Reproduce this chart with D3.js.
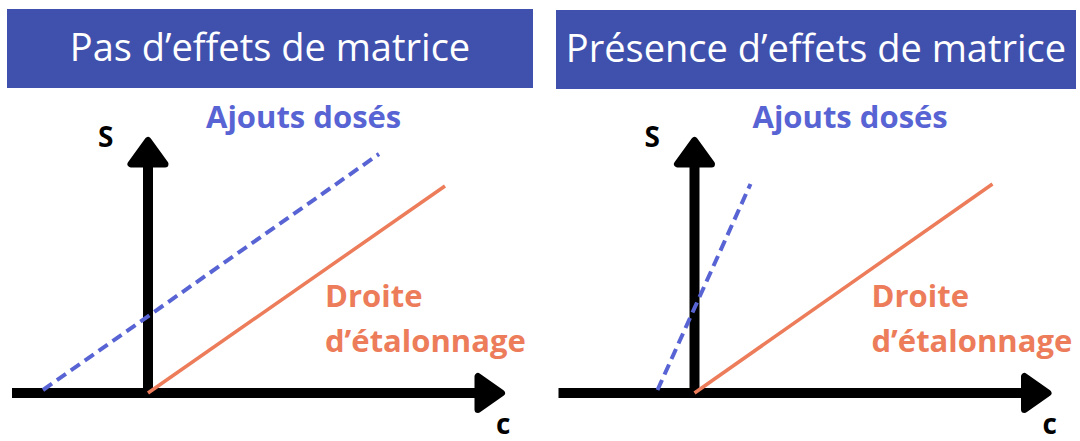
<!DOCTYPE html>
<html>
<head>
<meta charset="utf-8">
<script src="https://cdn.jsdelivr.net/npm/d3@7"></script>
<style>
  html, body { margin: 0; padding: 0; background: #fff; }
  svg { display: block; }
</style>
</head>
<body>
<svg id="chart"></svg>
<script>
// data, in (c, S) units -- one entry per panel
const panelTitles = ["Pas d’effets de matrice", "Présence d’effets de matrice"];
const calibration = [
    [[0, 0], [5.94, 4.14]],
    [[0, 0], [5.96, 4.18]]
];
const additions = [
    [[-2.1, 0.06], [4.62, 4.78]],
    [[-0.74, 0.06], [1.12, 4.18]]
];
const labelAdd = "Ajouts dosés";
const labelCal = ["Droite", "d’étalonnage"];
const axisNames = ["S", "c"];

const width = 1080;
const height = 441;
const headerColor = "#4051ad";
const blue = "#5864d4";
const orange = "#ec7c5a";

// layout of each panel: origin of the axes and header box
const panels = [
    { ox: 148, oy: 393, hx: 7, hw: 526, hy: 9 },
    { ox: 694.5, oy: 393, hx: 556, hw: 520, hy: 10 }
];

const svg = d3.select("#chart")
    .attr("width", width)
    .attr("height", height);

panels.forEach((p, i) => {
    const g = svg.append("g");

    // 50px per unit on both axes
    const x = d3.scaleLinear().domain([-2.72, 7.14]).range([p.ox - 136, p.ox + 357]);
    const y = d3.scaleLinear().domain([0, 5.12]).range([p.oy, p.oy - 256]);

    // header
    g.append("rect")
        .attr("x", p.hx).attr("y", p.hy)
        .attr("width", p.hw).attr("height", 79)
        .attr("fill", headerColor);
    g.append("text")
        .attr("x", p.hx + p.hw / 2)
        .attr("y", p.hy + 52)
        .attr("text-anchor", "middle")
        .attr("fill", "#fff")
        .style("font", "400 38px 'Open Sans', sans-serif")
        .text(panelTitles[i]);

    // axes: thick black shafts + rounded arrow heads
    const x0 = x(x.domain()[0]), x1 = x(x.domain()[1]);
    const y0 = y(0), y1 = y(y.domain()[1]);
    g.append("line")
        .attr("x1", x0).attr("x2", x1 - 28)
        .attr("y1", y0).attr("y2", y0)
        .attr("stroke", "#000").attr("stroke-width", 10);
    g.append("line")
        .attr("x1", x(0)).attr("x2", x(0))
        .attr("y1", y0 + 5).attr("y2", y1 + 28)
        .attr("stroke", "#000").attr("stroke-width", 10);

    const head = (pts) => g.append("polygon")
        .attr("points", pts.map(d => d.join(",")).join(" "))
        .attr("fill", "#000").attr("stroke", "#000")
        .attr("stroke-width", 7).attr("stroke-linejoin", "round");
    head([[x1 - 3.5, y0], [x1 - 27, y0 - 16.5], [x1 - 27, y0 + 16.5]]);
    head([[x(0), y1 + 3.5], [x(0) - 17, y1 + 27], [x(0) + 17, y1 + 27]]);

    // lines
    const line = d3.line().x(d => x(d[0])).y(d => y(d[1]));
    g.append("path")
        .attr("d", line(calibration[i]))
        .attr("fill", "none")
        .attr("stroke", orange).attr("stroke-width", 3.5);
    g.append("path")
        .attr("d", line(additions[i]))
        .attr("fill", "none")
        .attr("stroke", blue).attr("stroke-width", 4)
        .attr("stroke-dasharray", "11,6");

    // labels
    const bold = "700 31px 'Open Sans', sans-serif";
    g.append("text")
        .attr("x", p.ox + 58).attr("y", 128)
        .attr("fill", blue).style("font", bold)
        .text(labelAdd);
    labelCal.forEach((t, k) => {
        g.append("text")
            .attr("x", p.ox + 177).attr("y", 307 + k * 45)
            .attr("fill", orange).style("font", bold)
            .text(t);
    });
    g.append("text")
        .attr("x", p.ox - 50).attr("y", 147)
        .attr("fill", "#000").style("font", "700 28px 'Open Sans', sans-serif")
        .text(axisNames[0]);
    g.append("text")
        .attr("x", p.ox + 348).attr("y", 434)
        .attr("fill", "#000").style("font", "700 28px 'Open Sans', sans-serif")
        .text(axisNames[1]);
});
</script>
</body>
</html>
